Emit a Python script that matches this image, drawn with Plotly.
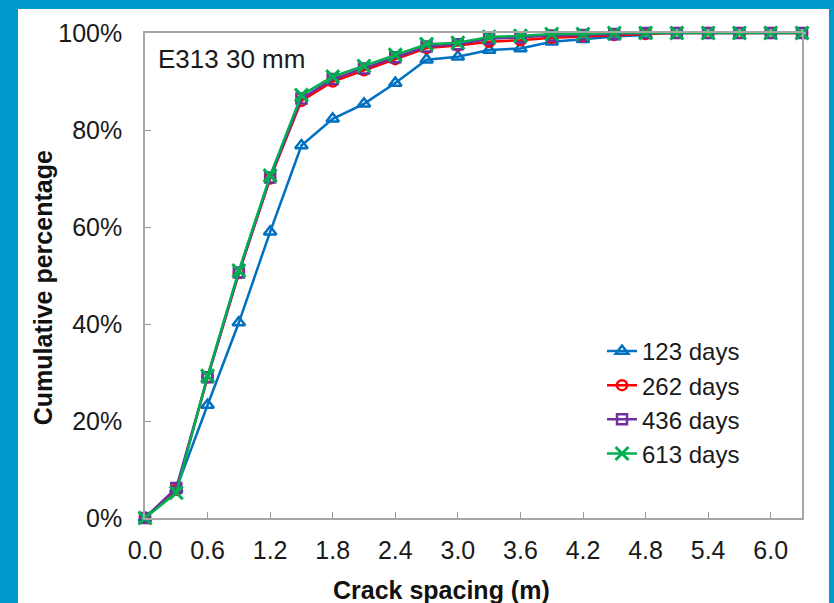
import plotly.graph_objects as go

x_vals = [0.0, 0.3, 0.6, 0.9, 1.2, 1.5, 1.8, 2.1, 2.4, 2.7, 3.0, 3.3, 3.6, 3.9, 4.2, 4.5, 4.8, 5.1, 5.4, 5.7, 6.0, 6.3]

d123 = [0, 6.0, 23.3, 40.3, 59.0, 76.8, 82.3, 85.4, 89.7, 94.5, 95.1, 96.5, 96.8, 98.2, 98.7, 99.3, 99.6]
d262 = [0, 5.8, 29.0, 50.5, 70.0, 86.0, 90.0, 92.3, 94.6, 96.9, 97.4, 98.2, 98.5, 99.0, 99.3, 99.6, 99.8, 100, 100, 100, 100, 100]
d436 = [0, 6.2, 29.0, 50.6, 70.2, 86.5, 90.5, 92.7, 95.0, 97.2, 97.7, 98.8, 99.1, 99.5, 99.6, 99.8, 100, 100, 100, 100, 100, 100]
d613 = [0, 5.2, 29.3, 51.0, 70.6, 87.2, 91.0, 93.2, 95.5, 97.7, 98.0, 99.2, 99.4, 99.8, 99.8, 100, 100, 100, 100, 100, 100, 100]

series_names = ["123 days", "262 days", "436 days", "613 days"]
series_data = [d123, d262, d436, d613]
colors = ["#0070C0", "#FF0000", "#7030A0", "#00B050"]
symbols = ["triangle-up-open", "circle-open", "square-open", "x-thin-open"]
sizes = [11, 10, 10, 13]

x_ticks = [0.0, 0.6, 1.2, 1.8, 2.4, 3.0, 3.6, 4.2, 4.8, 5.4, 6.0]
y_ticks = [0, 20, 40, 60, 80, 100]

FONT = "Liberation Sans, Arial, sans-serif"

fig = go.Figure()
for name, data, c, s, sz in zip(series_names, series_data, colors, symbols, sizes):
    fig.add_trace(go.Scatter(
        x=x_vals[:len(data)], y=data, name=name, mode="lines+markers",
        line=dict(color=c, width=2.5),
        marker=dict(symbol=s, size=sz, color=c, line=dict(color=c, width=2.5 if s != "x-thin-open" else 3)),
        cliponaxis=False,
    ))

# white panel on blue background
fig.add_shape(type="rect", xref="paper", yref="paper",
              x0=-0.1933, x1=1.0411, y0=-0.20, y1=1.0495,
              fillcolor="white", line=dict(width=0), layer="below")

fig.add_annotation(text="E313 30 mm", xref="paper", yref="paper", x=0.0167, y=0.946,
                   xanchor="left", yanchor="middle", showarrow=False,
                   font=dict(family=FONT, size=26, color="#1a1a1a"))
fig.add_annotation(text="<b>Cumulative percentage</b>", xref="paper", yref="paper",
                   x=-0.155, y=0.474, textangle=-90, xanchor="center", yanchor="middle",
                   showarrow=False, font=dict(family=FONT, size=25, color="#111"))
fig.add_annotation(text="<b>Crack spacing (m)</b>", xref="paper", yref="paper",
                   x=0.452, y=-0.148, xanchor="center", yanchor="middle",
                   showarrow=False, font=dict(family=FONT, size=25, color="#111"))

fig.update_layout(
    width=834, height=603,
    margin=dict(l=145, r=32, t=33, b=85),
    paper_bgcolor="#0099CC", plot_bgcolor="white",
    font=dict(family=FONT, size=25, color="#1a1a1a"),
    showlegend=True,
    legend=dict(x=0.6956, y=0.39, xanchor="left", yanchor="top",
                bgcolor="rgba(0,0,0,0)", font=dict(family=FONT, size=24, color="#1a1a1a"),
                tracegroupgap=0, itemsizing="trace"),
    xaxis=dict(range=[0, 6.3], tickvals=x_ticks, ticktext=[f"{v:.1f}" for v in x_ticks],
               ticks="inside", ticklen=6, tickcolor="#999", showgrid=False, zeroline=False,
               showline=True, linecolor="#A6A6A6", linewidth=1.5, mirror=True,
               ticklabelstandoff=9),
    yaxis=dict(range=[0, 100], tickvals=y_ticks, ticktext=[f"{v}%" for v in y_ticks],
               ticks="inside", ticklen=6, tickcolor="#999", showgrid=False, zeroline=False,
               showline=True, linecolor="#A6A6A6", linewidth=1.5, mirror=True,
               ticklabelstandoff=16),
)

fig.write_html("out.html")
